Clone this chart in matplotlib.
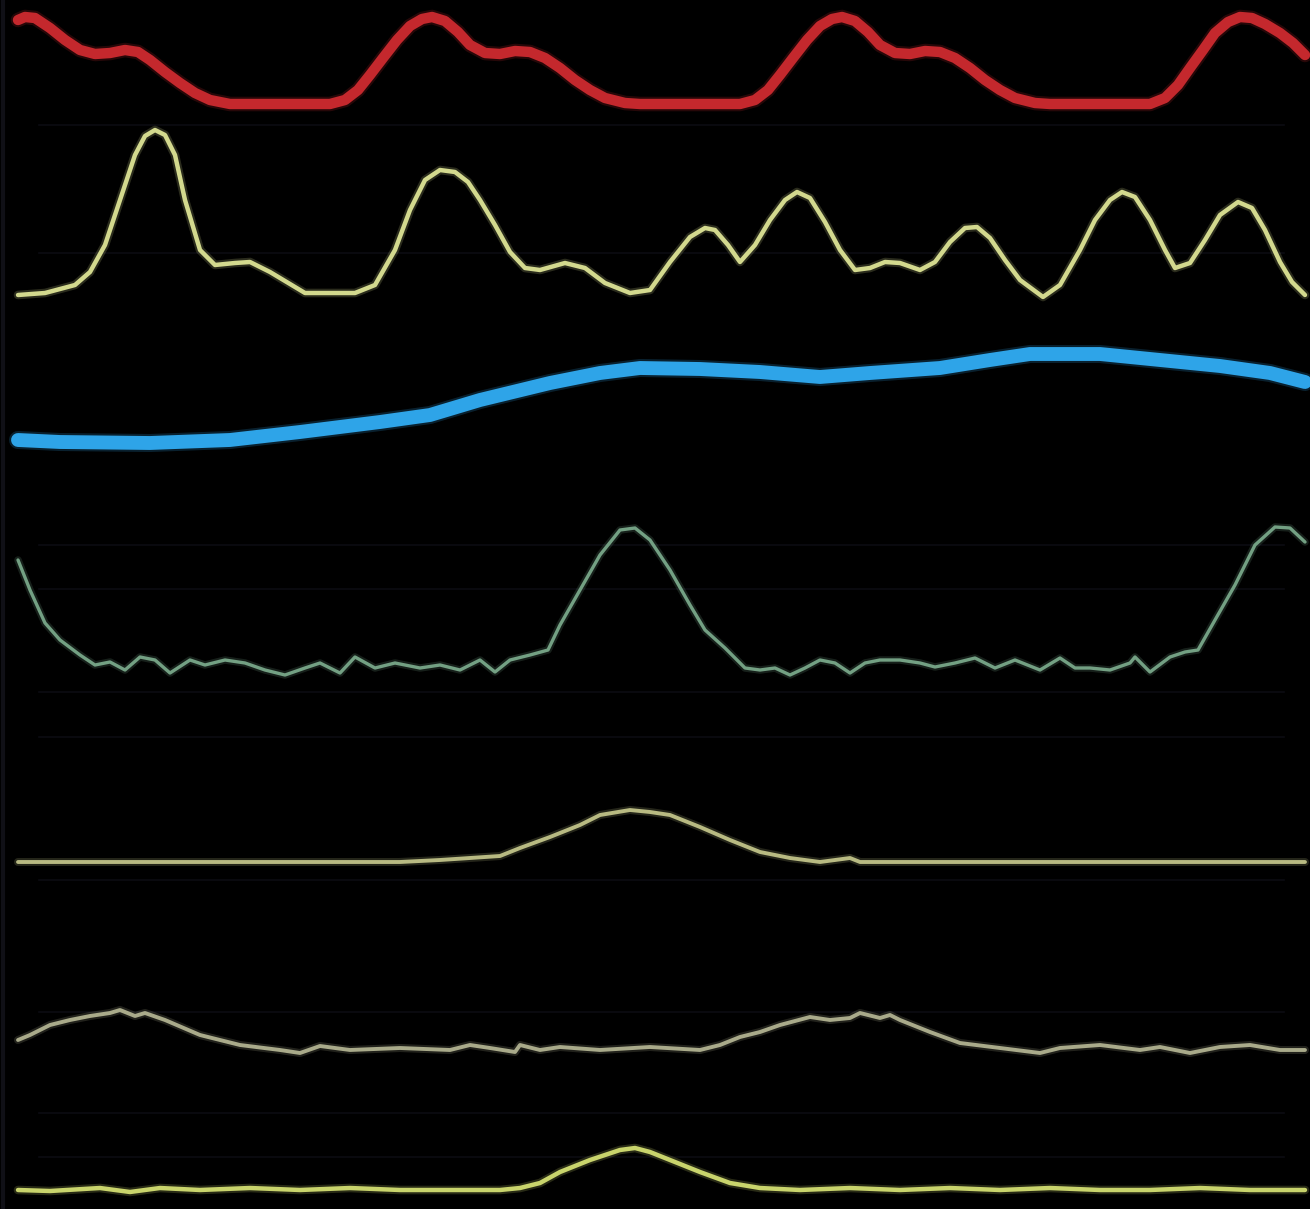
import numpy as np
import matplotlib.pyplot as plt

# traces: x position and vertical position (0 = top)
red_x = [18, 25, 35, 50, 65, 80, 95, 110, 125, 138, 150, 165, 180, 195, 210, 230, 330, 345, 358, 370,
         383, 397, 410, 422, 432, 445, 458, 470, 485, 500, 515, 530, 545, 560, 575, 590, 605, 625, 640,
         740, 755, 768, 780, 793, 807, 820, 832, 842, 855, 868, 880, 895, 910, 925, 940, 955, 970, 985,
         1000, 1015, 1035, 1050, 1150, 1165, 1178, 1190, 1203, 1215, 1228, 1240, 1252, 1265, 1280,
         1293, 1305]
red_y = [20, 17, 18, 28, 40, 50, 54, 53, 50, 52, 60, 72, 83, 93, 100, 104, 104, 100, 90, 75,
         58, 40, 26, 19, 17, 21, 32, 45, 53, 54, 51, 52, 58, 68, 80, 90, 98, 103, 104,
         104, 100, 90, 75, 58, 40, 26, 19, 17, 21, 32, 45, 53, 54, 51, 52, 58, 68, 80,
         90, 98, 103, 104, 104, 98, 85, 68, 50, 33, 22, 17, 18, 24, 33,
         43, 55]

yel_x = [18, 45, 75, 90, 105, 120, 135, 145, 155, 165, 175, 185, 200, 215, 235, 250, 270, 305, 355, 375,
         395, 410, 425, 440, 455, 468, 480, 495, 510, 525, 540, 565, 585, 605, 630, 650, 670, 690, 705,
         715, 728, 740, 755, 770, 785, 797, 810, 825, 840, 855, 870, 885, 900, 920, 935, 950, 965, 977,
         990, 1005, 1020, 1043, 1060, 1080, 1095, 1110, 1122, 1135, 1150, 1165, 1175, 1190, 1205, 1220,
         1238, 1252, 1265, 1280, 1292, 1305]
yel_y = [295, 293, 285, 272, 245, 200, 155, 136, 130, 135, 155, 200, 250, 265, 263, 262, 272, 293, 293, 285,
         250, 210, 180, 170, 172, 182, 200, 225, 252, 268, 270, 263, 268, 283, 293, 290, 262, 237, 228,
         230, 245, 262, 245, 220, 200, 192, 198, 222, 250, 270, 268, 262, 263, 270, 262, 242, 228, 227,
         238, 260, 280, 297, 285, 250, 220, 200, 192, 197, 220, 250, 268, 263, 240, 215,
         202, 208, 230, 262, 282, 295]

blue_x = [18, 60, 150, 230, 300, 380, 430, 480, 550, 600, 640, 700, 760, 820, 870, 940, 990, 1030, 1100,
          1160, 1220, 1270, 1305]
blue_y = [440, 442, 443, 440, 432, 422, 415, 400, 383, 373, 368, 369, 372, 377, 373, 368, 360, 354, 354,
          360, 366, 373, 382]

grn_x = [18, 30, 45, 60, 80, 95, 110, 125, 140, 155, 170, 190, 205, 225, 245, 265, 285, 305, 320, 340,
         355, 375, 395, 420, 440, 460, 480, 495, 510, 530, 548, 560, 580, 600, 620, 635, 650, 670, 690,
         705, 725, 745, 760, 775, 790, 805, 820, 835, 850, 865, 880, 900, 920, 935, 955, 975, 995,
         1015, 1040, 1060, 1075, 1090, 1110, 1130, 1135, 1150, 1170, 1185, 1198, 1215, 1235, 1255,
         1275, 1290, 1305]
grn_y = [560, 590, 623, 640, 655, 665, 662, 670, 657, 660, 673, 660, 665, 660, 663, 670, 675, 668, 663, 673,
         657, 668, 663, 668, 665, 670, 660, 672, 660, 655, 650, 625, 590, 555, 530, 528, 540, 570, 605,
         630, 648, 668, 670, 668, 675, 668, 660, 663, 673, 663, 660, 660, 663, 667, 663, 658, 668,
         660, 670, 658, 668, 668, 670, 663, 657, 672, 657, 652, 650, 620, 585, 545,
         527, 528, 542]

olv_x = [18, 300, 400, 440, 470, 500, 520, 550, 580, 600, 630, 650, 670, 700, 730, 760, 790, 820, 850,
         860, 1305]
olv_y = [862, 862, 862, 860, 858, 856, 848, 837, 825, 815, 810, 812, 815, 827, 840, 852, 858, 862, 858,
         862, 862]

gry_x = [18, 30, 50, 70, 90, 110, 120, 135, 145, 165, 200, 240, 280, 300, 320, 350, 400, 450, 470, 490,
         515, 520, 540, 560, 600, 650, 700, 720, 740, 760, 780, 810, 830, 850, 860, 880, 890, 900, 930,
         960, 1000, 1040, 1060, 1100, 1140, 1160, 1190, 1220, 1250, 1280, 1305]
gry_y = [1040, 1035, 1025, 1020, 1016, 1013, 1010, 1016, 1013, 1020, 1035, 1045, 1050, 1053, 1046, 1050,
         1048, 1050, 1045, 1048, 1052, 1045, 1050, 1047, 1050, 1047, 1050, 1045, 1037, 1032, 1025, 1017,
         1020, 1018, 1013, 1018, 1015, 1020, 1032, 1043, 1048, 1053, 1048, 1045, 1050, 1047, 1053, 1047,
         1045, 1050, 1050]

lim_x = [18, 50, 100, 130, 160, 200, 250, 300, 350, 400, 450, 500, 520, 540, 560, 590, 620, 635, 650, 670,
         700, 730, 760, 800, 850, 900, 950, 1000, 1050, 1100, 1150, 1200, 1250, 1305]
lim_y = [1190, 1191, 1188, 1192, 1188, 1190, 1188, 1190, 1188, 1190, 1190, 1190, 1188, 1183, 1172, 1160,
         1150, 1148, 1152, 1160, 1172, 1183, 1188, 1190, 1188, 1190, 1188, 1190, 1188, 1190, 1190, 1188,
         1190, 1190]

grid_rows = [125, 253, 545, 589, 692, 737, 880, 1012, 1113, 1157]

fig = plt.figure(figsize=(13.1, 12.09), dpi=100, facecolor='black')
ax = fig.add_axes([0, 0, 1, 1])
ax.set_facecolor('black')
ax.set_xlim(0, 1310)
ax.set_ylim(1209, 0)
ax.axis('off')

for gy in grid_rows:
    ax.axhline(gy, xmin=0.03, xmax=0.98, color='#0b0b12', lw=1.2, zorder=1)
ax.axvline(3, color='#101016', lw=3, zorder=1)

traces = [
    (red_x, red_y, '#c4282d', 7.5),
    (yel_x, yel_y, '#d3d98e', 3.2),
    (blue_x, blue_y, '#2ea4e8', 10),
    (grn_x, grn_y, '#73a083', 2.4),
    (olv_x, olv_y, '#b8ba82', 2.8),
    (gry_x, gry_y, '#a9aa8a', 2.8),
    (lim_x, lim_y, '#c9d46c', 3.2),
]
for xs, ys, c, lw in traces:
    # soft halo under each line, like the blurred source
    ax.plot(xs, ys, color=c, lw=lw + 3, alpha=0.2, solid_capstyle='round',
            solid_joinstyle='round', zorder=2)
    ax.plot(xs, ys, color=c, lw=lw, solid_capstyle='round', solid_joinstyle='round', zorder=3)

fig.savefig('out.png', dpi=100, facecolor='black')
